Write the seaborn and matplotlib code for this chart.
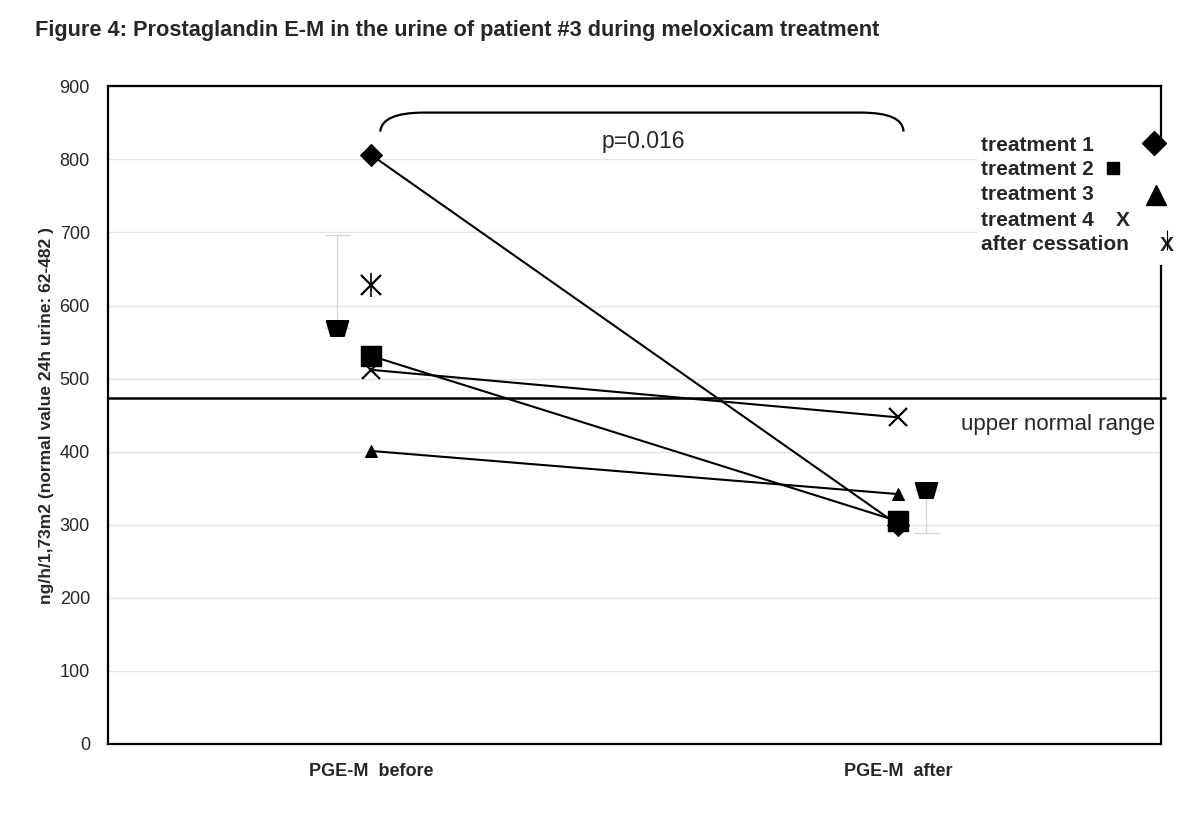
import numpy as np
import pandas as pd
import seaborn as sns
import matplotlib.pyplot as plt
from matplotlib.path import Path
from matplotlib.patches import PathPatch, Rectangle

sns.set_style('white')
plt.rcParams['font.family'] = ['Liberation Sans', 'DejaVu Sans']

# data
categories = ['PGE-M  before', 'PGE-M  after']
treatments = ['treatment 1', 'treatment 2', 'treatment 3', 'treatment 4']
before_vals = [806, 531, 401, 512]
after_vals = [300, 305, 342, 447]
cessation_before = 628
mean_vals = [569, 347]
err_up = [127, 0]
err_down = [0, 58]
upper_normal = 474

df = pd.DataFrame({
    'treatment': np.repeat(treatments, 2),
    'pos': [0, 1] * len(treatments),
    'value': [v for pair in zip(before_vals, after_vals) for v in pair],
})

fig = plt.figure(figsize=(12, 8.14), dpi=100)
ax = fig.add_axes([0.09, 0.086, 0.8775, 0.808])

trap = [(-1, 0.7), (1, 0.7), (0.6, -0.7), (-0.6, -0.7), (-1, 0.7)]
marker_cfg = {
    'treatment 1': dict(marker='D', markersize=11),
    'treatment 2': dict(marker='s', markersize=14),
    'treatment 3': dict(marker='^', markersize=8),
    'treatment 4': dict(marker='x', markersize=13, markeredgewidth=1.6),
}
for t in treatments:
    sub = df[df['treatment'] == t]
    sns.lineplot(data=sub, x='pos', y='value', ax=ax, color='black', lw=1.5,
                 markeredgecolor='black', zorder=5, **marker_cfg[t])
# square sits on top of the treatment 1 diamond at "after"
sub2 = df[df['treatment'] == 'treatment 2']
ax.plot(sub2['pos'], sub2['value'], 's', ms=14, color='black', zorder=6)

# after cessation: asterisk (x + vertical bar)
ax.plot([0], [cessation_before], 'x', ms=14, mew=1.6, color='black', zorder=5)
ax.plot([0], [cessation_before], '|', ms=17, mew=1.2, color='black', zorder=5)

# means with one-sided error bars
mean_x = [-0.065, 1.053]
ax.errorbar(mean_x, mean_vals, yerr=[err_down, err_up], fmt='none',
            ecolor='#d4d4d4', elinewidth=0.9, capsize=9, capthick=0.9, zorder=3)
ax.plot(mean_x, mean_vals, linestyle='none', marker=trap, ms=16,
        color='black', zorder=5)

# upper normal range line
ax.axhline(upper_normal, color='black', lw=1.8, zorder=4, clip_on=False,
           xmin=0, xmax=1.004)
ax.text(1.489, 437, 'upper normal range', ha='right', va='center', fontsize=16)

# bracket with p value
verts = [(0.017, 838), (0.02, 864), (0.10, 864), (0.93, 864), (1.01, 864), (1.011, 838)]
codes = [Path.MOVETO, Path.CURVE3, Path.CURVE3, Path.LINETO, Path.CURVE3, Path.CURVE3]
ax.add_patch(PathPatch(Path(verts, codes), fill=False, lw=1.6, color='black', zorder=4))
ax.text(0.516, 825, 'p=0.016', ha='center', va='center', fontsize=16.5)

# legend block
ax.add_patch(Rectangle((1.15, 655), 0.45, 172, facecolor='white', edgecolor='none',
                       zorder=3, clip_on=False))
leg_y = [819, 786, 752, 717, 683]
leg_labels = treatments + ['after cessation']
for y, lab in zip(leg_y, leg_labels):
    ax.text(1.158, y, lab, fontsize=15, fontweight='bold', va='center', zorder=6)
ax.plot([1.487], [823], 'D', ms=12, color='black', clip_on=False, zorder=6)
ax.plot([1.409], [788], 's', ms=8.5, color='black', clip_on=False, zorder=6)
ax.plot([1.490], [751], '^', ms=15, color='black', clip_on=False, zorder=6)
ax.text(1.428, 717, 'X', fontsize=15, fontweight='bold', ha='center', va='center', zorder=6)
ax.text(1.511, 682, 'X', fontsize=15, fontweight='bold', ha='center', va='center', zorder=6)
ax.plot([1.511], [690], '|', ms=14, mew=0.8, color='black', clip_on=False, zorder=6)

ax.set_xlim(-0.5, 1.5)
ax.set_ylim(0, 900)
ax.set_yticks(range(0, 901, 100))
ax.set_xticks([0, 1])
ax.set_xticklabels(categories, fontsize=13, fontweight='bold')
ax.tick_params(axis='x', length=0, pad=14)
ax.tick_params(axis='y', labelsize=13, length=7, color='#cccccc', pad=6)
ax.yaxis.grid(True, color='#e3e3e3', lw=1)
ax.set_axisbelow(True)
ax.set_xlabel('')
ax.set_ylabel('ng/h/1,73m2 (normal value 24h urine: 62-482 )', fontsize=12.5,
              fontweight='bold', labelpad=4)
for s in ax.spines.values():
    s.set_color('black')
    s.set_linewidth(1.6)

fig.text(0.029, 0.963, 'Figure 4: Prostaglandin E-M in the urine of patient #3 during meloxicam treatment',
         fontsize=15.7, fontweight='bold', va='center')

fig.savefig('out.png', dpi=100, facecolor='white')
